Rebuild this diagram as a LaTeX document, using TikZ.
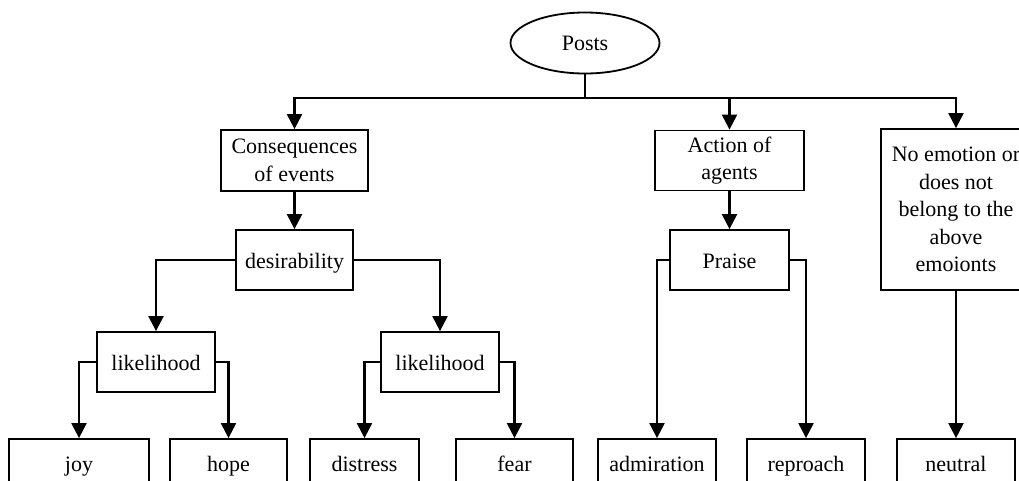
\documentclass[tikz,border=0pt]{standalone}
\usepackage{fontspec}
\setmainfont{Liberation Serif}
\usetikzlibrary{shapes.geometric,arrows.meta}
\begin{document}
\begin{tikzpicture}[x=1pt,y=-1pt,
  box/.style={draw,line width=1.8pt,inner sep=0pt,align=center,font=\fontsize{22pt}{27.5pt}\selectfont},
  one/.style={box,text height=20pt,text depth=3pt},
  oval/.style={draw,ellipse,line width=1.8pt,inner sep=0pt,font=\fontsize{22pt}{27.5pt}\selectfont},
  arr/.style={line width=2.2pt,-{Triangle[width=15pt,length=15pt]}},
  ln/.style={line width=2.2pt}]
\useasboundingbox (0,0) rectangle (1019,480);
\fill[white] (0,0) rectangle (1019,480);
% top
\node[oval,minimum width=149pt,minimum height=61pt] (posts) at (585,43) {Posts};
\node[box,minimum width=147pt,minimum height=61pt] (cons) at (294.5,160.5) {Consequences\\of events};
\node[box,minimum width=149pt,minimum height=60pt] (act) at (729.5,160.5) {Action of\\agents};
\node[box,minimum width=150pt,minimum height=161pt] (noemo) at (956,209.5) {No emotion or\\does not\\belong to the\\above\\emoionts};
% middle
\node[one,minimum width=117pt,minimum height=60pt] (des) at (294.5,260) {desirability};
\node[one,minimum width=119pt,minimum height=60pt] (praise) at (729.5,260) {Praise};
\node[one,minimum width=118pt,minimum height=60pt] (lika) at (156,362) {likelihood};
\node[one,minimum width=118pt,minimum height=60pt] (likb) at (440,362) {likelihood};
% leaves
\node[one,minimum width=140pt,minimum height=48pt] (joy) at (79,463) {joy};
\node[one,minimum width=117pt,minimum height=48pt] (hope) at (228.5,463) {hope};
\node[one,minimum width=109pt,minimum height=48pt] (distress) at (364.5,463) {distress};
\node[one,minimum width=117pt,minimum height=48pt] (fear) at (514.5,463) {fear};
\node[one,minimum width=118pt,minimum height=48pt] (admiration) at (657,463) {admiration};
\node[one,minimum width=118pt,minimum height=48pt] (reproach) at (806,463) {reproach};
\node[one,minimum width=118pt,minimum height=48pt] (neutral) at (956,463) {neutral};
% connectors
\coordinate (bus) at (585,98);
\draw[ln] (posts.south) -- (bus);
\draw[arr] (bus) -| (cons.north);
\draw[arr] (bus) -| (act.north);
\draw[arr] (bus) -| (noemo.north);
\draw[arr] (cons.south) -- (des.north);
\draw[arr] (act.south) -- (praise.north);
\draw[arr] (des.west) -| (lika.north);
\draw[arr] (des.east) -| (likb.north);
\draw[arr] (lika.west) -| (joy.north);
\draw[arr] (lika.east) -| (hope.north);
\draw[arr] (likb.west) -| (distress.north);
\draw[arr] (likb.east) -| (fear.north);
\draw[arr] (praise.west) -| (admiration.north);
\draw[arr] (praise.east) -| (reproach.north);
\draw[arr] (noemo.south) -- (neutral.north);
\end{tikzpicture}
\end{document}
